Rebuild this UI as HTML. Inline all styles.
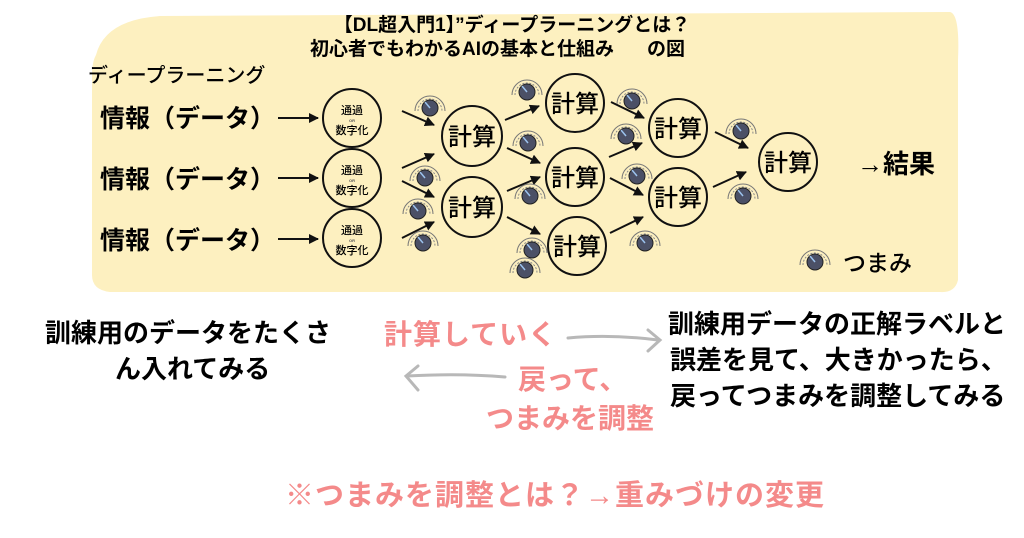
<!DOCTYPE html>
<html><head><meta charset="utf-8"><style>
body{margin:0;background:#fff;width:1024px;height:538px;overflow:hidden}
svg{display:block}
text{font-family:"Liberation Sans","Noto Sans CJK JP",sans-serif;font-weight:bold}
text.n{font-weight:500}
</style></head><body>
<svg width="1024" height="538" viewBox="0 0 1024 538">
<defs>
<g id="k">
<path d="M-12,3 A12,12 0 1 1 12,3" fill="none" stroke="#888" stroke-width="1" stroke-dasharray="2 1.5"/>
<path d="M-15,3 A15,15 0 1 1 15,3" fill="none" stroke="#777" stroke-width="1"/>
<circle r="8" fill="#4b5066" stroke="#222" stroke-width="1"/>
<line x1="0" y1="0" x2="-5" y2="-6" stroke="#9cc3ee" stroke-width="1.5"/>
</g>
<marker id="a" viewBox="0 0 10 10" refX="9" refY="5" markerWidth="5" markerHeight="5" orient="auto"><path d="M0,0L10,5L0,10z" fill="#111"/></marker>
</defs>
<path d="M96,55 Q105,20 160,16 L950,12 Q960,14 958,60 L958,280 Q955,293 940,292 L110,292 Q92,290 92,275 L92,75 Q92,62 96,55z" fill="#fdf0c0"/>
<text x="512" y="31" font-size="19" text-anchor="middle">【DL超入門1】”ディープラーニングとは？</text>
<text x="462" y="55" font-size="19" text-anchor="middle">初心者でもわかるAIの基本と仕組み</text>
<text x="666" y="55" font-size="19" text-anchor="middle">の図</text>
<text class="n" x="88" y="82" font-size="20">ディープラーニング</text>
<g font-size="25">
<text x="100" y="127">情報（データ）</text>
<text x="100" y="188">情報（データ）</text>
<text x="100" y="249">情報（データ）</text>
</g>
<g stroke="#111" stroke-width="2" marker-end="url(#a)">
<line x1="278" y1="118" x2="318" y2="118"/><line x1="278" y1="178" x2="318" y2="178"/><line x1="278" y1="239" x2="318" y2="239"/>
<line x1="402" y1="111" x2="434" y2="125"/><line x1="402" y1="168" x2="434" y2="154"/>
<line x1="402" y1="181" x2="434" y2="197"/><line x1="402" y1="238" x2="434" y2="222"/>
<line x1="505" y1="120" x2="539" y2="106"/><line x1="507" y1="148" x2="540" y2="163"/>
<line x1="507" y1="191" x2="540" y2="177"/><line x1="507" y1="217" x2="540" y2="234"/>
<line x1="611" y1="102" x2="644" y2="118"/><line x1="609" y1="157" x2="642" y2="143"/>
<line x1="610" y1="178" x2="643" y2="195"/><line x1="610" y1="233" x2="643" y2="217"/>
<line x1="715" y1="132" x2="748" y2="148"/><line x1="713" y1="187" x2="746" y2="172"/>
</g>
<g fill="none" stroke="#111" stroke-width="2">
<circle cx="352" cy="118" r="29"/><circle cx="352" cy="178" r="29"/><circle cx="352" cy="238" r="29"/>
<circle cx="472" cy="136" r="30"/><circle cx="472" cy="207" r="30"/>
<circle cx="575" cy="103" r="29"/><circle cx="575" cy="177" r="29"/><circle cx="577" cy="246" r="29"/>
<circle cx="678" cy="128" r="29"/><circle cx="678" cy="197" r="29"/>
<circle cx="788" cy="162" r="29"/>
</g>
<g font-size="11" text-anchor="middle">
<text class="n" x="352" y="114">通過</text><text class="n" x="352" y="134">数字化</text>
<text class="n" x="352" y="174">通過</text><text class="n" x="352" y="194">数字化</text>
<text class="n" x="352" y="234">通過</text><text class="n" x="352" y="254">数字化</text>
</g>
<g font-size="4" text-anchor="middle" fill="#555"><text x="352" y="122">OR</text><text x="352" y="182">OR</text><text x="352" y="242">OR</text></g>
<g font-size="24" text-anchor="middle">
<text class="n" x="472" y="145">計算</text><text class="n" x="472" y="216">計算</text>
<text class="n" x="575" y="112">計算</text><text class="n" x="575" y="186">計算</text><text class="n" x="577" y="255">計算</text>
<text class="n" x="678" y="137">計算</text><text class="n" x="678" y="206">計算</text><text class="n" x="788" y="171">計算</text>
</g>
<g>
<use href="#k" x="430" y="108"/><use href="#k" x="425" y="178"/><use href="#k" x="418" y="211"/><use href="#k" x="423" y="243"/>
<use href="#k" x="527" y="92"/><use href="#k" x="528" y="143"/><use href="#k" x="530" y="196"/><use href="#k" x="532" y="250"/><use href="#k" x="525" y="270"/>
<use href="#k" x="632" y="101"/><use href="#k" x="626" y="136"/><use href="#k" x="637" y="176"/><use href="#k" x="645" y="243"/>
<use href="#k" x="741" y="131"/><use href="#k" x="743" y="196"/><use href="#k" x="815" y="262"/>
</g>
<text x="857" y="173" font-size="26">→結果</text>
<text class="n" x="843" y="271" font-size="23">つまみ</text>
<g font-size="26">
<text x="45" y="342">訓練用のデータをたくさ</text>
<text x="115" y="378">ん入れてみる</text>
<text x="668" y="333">訓練用データの正解ラベルと</text>
<text x="670" y="369">誤差を見て、大きかったら、</text>
<text x="670" y="405">戻ってつまみを調整してみる</text>
</g>
<g font-size="28" fill="#f48a8a">
<text x="384" y="344" letter-spacing="1">計算していく</text>
<text x="518" y="389">戻って、</text>
<text x="486" y="428">つまみを調整</text>
<text x="285" y="505" font-size="29" letter-spacing="1">※つまみを調整とは？→重みづけの変更</text>
</g>
<g fill="none" stroke="#b8b8b8" stroke-width="3" stroke-linecap="round">
<path d="M568,338 Q610,334 658,340"/><path d="M648,330 L660,340 L648,351"/>
<path d="M505,377 Q460,373 407,376"/><path d="M418,366 L406,376 L418,390"/>
</g>
</svg>
</body></html>
